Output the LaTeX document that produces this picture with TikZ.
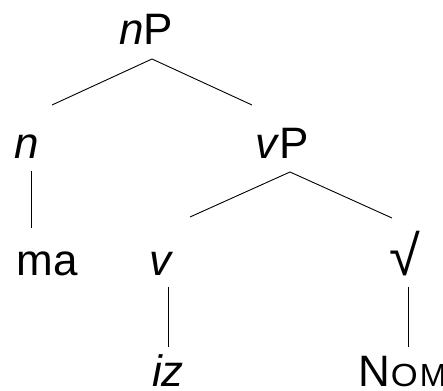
\documentclass[tikz,border=0pt]{standalone}
\usepackage{fontspec}
\setmainfont{Liberation Sans}
\tikzset{
  lbl/.style={inner sep=0pt, anchor=base, font=\fontsize{44}{50}\selectfont},
  branch/.style={line width=0.9pt, black},
}
\begin{document}
\begin{tikzpicture}[x=1pt,y=-1pt]
\useasboundingbox (0,0) rectangle (443,390);
% nodes
\node[lbl] (nP) at (146,45) {\textit{n}P};
\node[lbl] (n) at (27,158) {\textit{n}};
\node[lbl] (vP) at (282,158) {\textit{v}P};
\node[lbl] (ma) at (47,275) {ma};
\node[lbl] (v) at (162,275) {\textit{v}};
\node[lbl, font=\fontsize{56}{60}\selectfont] (root) at (405,275) {√};
\node[lbl] (iz) at (168,386) {\textit{iz}};
\node[lbl, anchor=base west] (nom) at (358,386) {N\hspace{1pt}{\fontsize{32}{36}\selectfont\scalebox{1.08}[1]{O}\hspace{2pt}M}};
% branch end points
\coordinate (nPb) at (152,59);
\coordinate (nt) at (52,105);
\coordinate (vPt) at (252,105);
\coordinate (nb) at (31,171);
\coordinate (mat) at (31,228);
\coordinate (vPb) at (290,172);
\coordinate (vt) at (190,217);
\coordinate (roott) at (392,218);
\coordinate (vb) at (168,287);
\coordinate (izt) at (168,347);
\coordinate (rootb) at (408,287);
\coordinate (nomt) at (408,347);
% connectors
\draw[branch] (nt) -- (nPb) -- (vPt);
\draw[branch] (nb) -- (mat);
\draw[branch] (vt) -- (vPb) -- (roott);
\draw[branch] (vb) -- (izt);
\draw[branch] (rootb) -- (nomt);
\end{tikzpicture}
\end{document}
